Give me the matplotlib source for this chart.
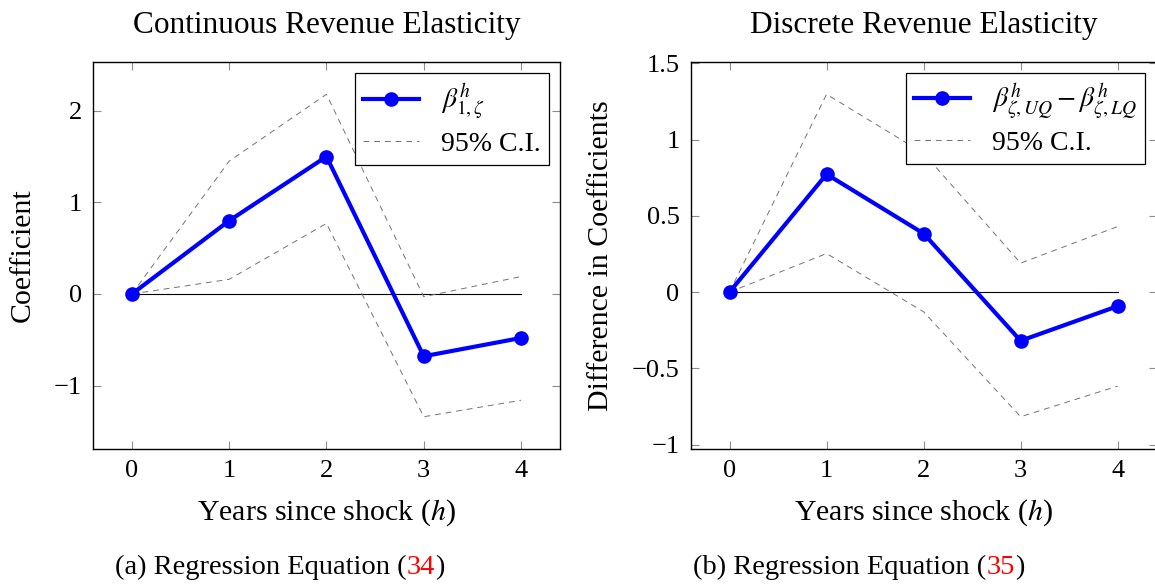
import matplotlib
matplotlib.use("Agg")
import matplotlib.pyplot as plt

plt.rcParams['font.family'] = ['Liberation Serif', 'DejaVu Serif']
plt.rcParams['mathtext.fontset'] = 'stix'

years = [0, 1, 2, 3, 4]

# (a) continuous revenue elasticity
coef_a = [0.0, 0.80, 1.50, -0.68, -0.48]
upper_a = [0.0, 1.45, 2.18, -0.03, 0.19]
lower_a = [0.0, 0.16, 0.77, -1.34, -1.16]

# (b) discrete revenue elasticity
coef_b = [0.0, 0.773, 0.384, -0.319, -0.092]
upper_b = [0.0, 1.297, 0.91, 0.19, 0.43]
lower_b = [0.0, 0.253, -0.129, -0.817, -0.616]

titles = ['Continuous Revenue Elasticity', 'Discrete Revenue Elasticity']
ylabels = ['Coefficient', 'Difference in Coefficients']
legend_labels = [r'$\beta^{h}_{1,\zeta}$', r'$\beta^{h}_{\zeta,UQ} - \beta^{h}_{\zeta,LQ}$']
captions = [('(a) Regression Equation (', '34', ')'), ('(b) Regression Equation (', '35', ')')]
yticks = [[-1, 0, 1, 2], [-1, -0.5, 0, 0.5, 1, 1.5]]
yticklabels = [['\u22121', '0', '1', '2'], ['\u22121', '\u22120.5', '0', '0.5', '1', '1.5']]

fig = plt.figure(figsize=(11.55, 5.85), dpi=100)
ax1 = fig.add_axes([0.0805, 0.2325, 0.4043, 0.6615])
ax2 = fig.add_axes([0.598, 0.2325, 0.4033, 0.6615])

data = [(coef_a, upper_a, lower_a), (coef_b, upper_b, lower_b)]
caption_left = [115 / 1155, 693 / 1155]

for i, ax in enumerate([ax1, ax2]):
    coef, upper, lower = data[i]
    ax.plot(years, [0] * len(years), color='black', lw=0.8, zorder=1)
    ax.plot(years, coef, color=(0, 0, 1), lw=3.0, marker='o', ms=9.5,
            label=legend_labels[i], zorder=3)
    ax.plot(years, upper, color='0.45', lw=0.7, dashes=(6, 5), label='95% C.I.', zorder=2)
    ax.plot(years, lower, color='0.45', lw=0.7, dashes=(6, 5), zorder=2)
    ax.margins(x=0.1, y=0.1)

    ax.set_xticks(years)
    ax.set_yticks(yticks[i])
    ax.set_yticklabels(yticklabels[i])
    ax.tick_params(direction='in', top=True, right=True, length=6, width=0.8,
                   color='0.55', labelsize=19, pad=8)
    for sp in ax.spines.values():
        sp.set_linewidth(1.0)

    ax.set_title(titles[i], fontsize=22.5, pad=21)
    ax.set_xlabel('Years since shock ($h$)', fontsize=21.5, labelpad=11)
    ax.set_ylabel(ylabels[i], fontsize=21.5, labelpad=13)

    leg = ax.legend(loc='upper right', fontsize=20, frameon=True, fancybox=False,
                    edgecolor='black', framealpha=1, handlelength=2.0,
                    borderaxespad=0.4, borderpad=0.3, labelspacing=0.3)
    leg.get_frame().set_linewidth(0.9)

    t1 = fig.text(caption_left[i], 0.019, captions[i][0], fontsize=20.5, va='baseline')
    t2 = ax.annotate(captions[i][1], xy=(1, 0), xycoords=t1, va='bottom',
                     fontsize=20.5, color='red', annotation_clip=False)
    ax.annotate(captions[i][2], xy=(1, 0), xycoords=t2, va='bottom',
                fontsize=20.5, annotation_clip=False)

fig.savefig('out.png', dpi=100)
